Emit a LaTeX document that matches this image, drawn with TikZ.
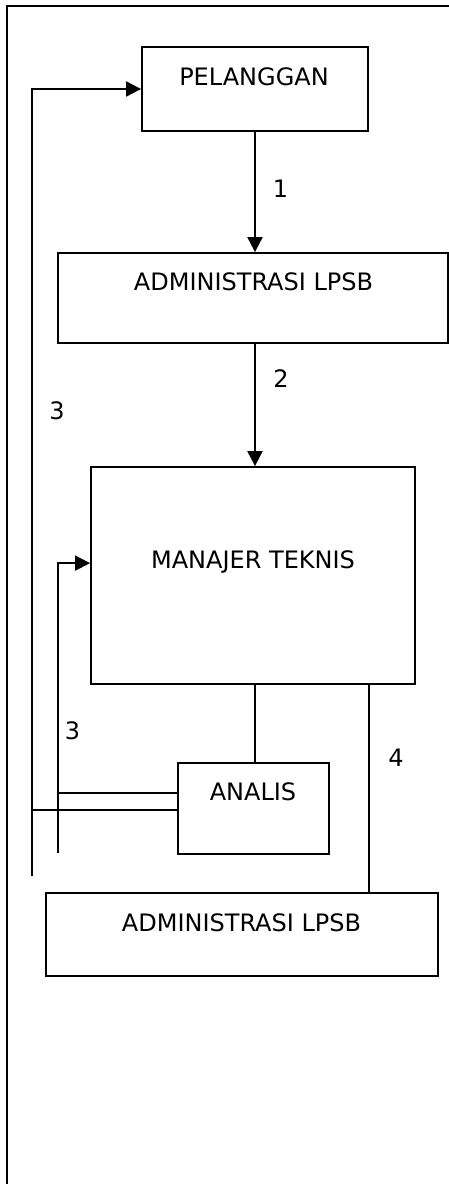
\documentclass[tikz,border=0pt]{standalone}
\usepackage{fontspec}
\setmainfont{DejaVu Sans}
\usetikzlibrary{arrows.meta,calc}
\begin{document}
\begin{tikzpicture}[x=1pt,y=-1pt,
  box/.style={draw,line width=1.8pt,inner sep=0pt},
  ln/.style={line width=2pt},
  thinln/.style={line width=1.4pt},
  arr/.style={ln,-{Triangle[length=15pt,width=15pt]}},
  txt/.style={anchor=base,inner sep=0pt,font=\fontsize{24}{28}\selectfont}]
\useasboundingbox (0,0) rectangle (449,1184);
% frame
\draw[line width=2.5pt] (7,1184) -- (7,6) -- (449,6);
% boxes
\node[box,minimum width=226pt,minimum height=84pt] (pel) at (255,89) {};
\node[box,minimum width=390pt,minimum height=90pt] (adm1) at (253,298) {};
\node[box,minimum width=324pt,minimum height=217pt] (man) at (253,575.5) {};
\node[box,minimum width=151pt,minimum height=91pt] (ana) at (253.5,808.5) {};
\node[box,minimum width=392pt,minimum height=83pt] (adm2) at (242,934.5) {};
% texts
\node[txt] (tpel) at (254,85) {PELANGGAN};
\node[txt] (tadm1) at (253.5,290) {ADMINISTRASI LPSB};
\node[txt] (tman) at (253,568) {MANAJER TEKNIS};
\node[txt] (tana) at (253,800) {ANALIS};
\node[txt] (tadm2) at (241.5,931) {ADMINISTRASI LPSB};
% labels
\node[txt] (n1) at (280.5,197) {1};
\node[txt] (n2) at (281,387) {2};
\node[txt] (n3a) at (57,419) {3};
\node[txt] (n3b) at (72.5,739) {3};
\node[txt] (n4) at (396,766) {4};
% connectors
\draw[arr] (pel.south) -- (pel.south |- adm1.north);
\draw[arr] (pel.south |- adm1.south) -- (pel.south |- man.north);
\draw[ln] (pel.south |- man.south) -- (pel.south |- ana.north);
\draw[ln] (pel.south east |- man.south) -- (pel.south east |- adm2.north);
\coordinate (l1) at (32,876);
\coordinate (l2) at (58,853);
\draw[arr] (l1) |- (pel.west);
\draw[arr,line width=1.6pt] (l2) |- ($(man.north west)+(0,97)$);
\draw[thinln] ($(ana.west)+(0,-15.5)$) -- (l2 |- {0,793});
\draw[thinln] ($(ana.west)+(0,1.5)$) -- (l1 |- {0,810});
\end{tikzpicture}
\end{document}
